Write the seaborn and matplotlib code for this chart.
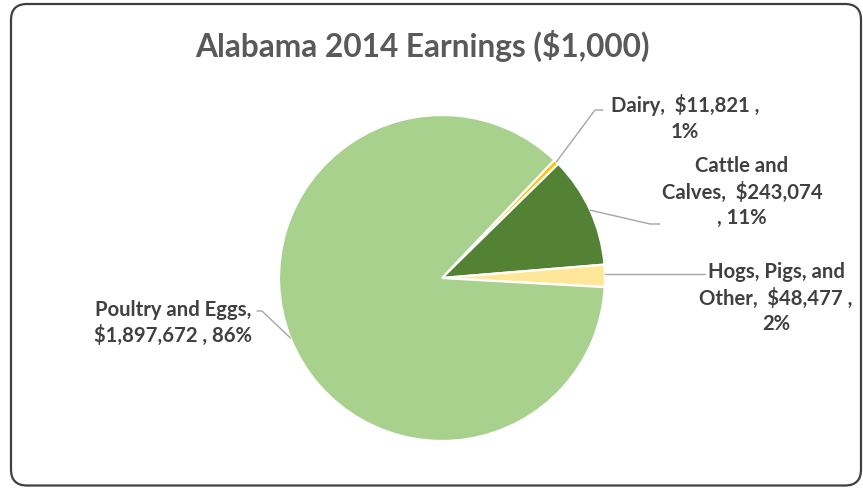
import numpy as np
import matplotlib
matplotlib.use("Agg")
import matplotlib.pyplot as plt
from matplotlib.patches import FancyBboxPatch
import seaborn as sns

# Alabama farm earnings, 2014, in thousands of dollars
categories = ["Dairy", "Cattle and Calves", "Hogs, Pigs, and Other", "Poultry and Eggs"]
earnings = [11821, 243074, 48477, 1897672]
colors = ["#FFC000", "#548235", "#FFE699", "#A9D18E"]

# how each data label wraps onto lines
label_formats = [
    "{name},  ${val} ,\n{pct}%",
    "Cattle and\nCalves,  ${val}\n, {pct}%",
    "Hogs, Pigs, and\nOther,  ${val} ,\n{pct}%",
    "{name},\n${val} , {pct}%",
]

sns.set_theme(style="white")
plt.rcParams["font.family"] = ["Lato", "DejaVu Sans"]

W, H = 863, 489
fig = plt.figure(figsize=(W / 100, H / 100), dpi=100)
ax = fig.add_axes([0, 0, 1, 1])

# rounded chart frame
frame = FancyBboxPatch((11, 2.5), 850, 481.5, boxstyle="round,pad=0,rounding_size=16",
                       facecolor="white", edgecolor="#3f3f3f", linewidth=1.6, zorder=0)
ax.add_patch(frame)

cx, cy, r = 442, H - 279, 163
start = 90 - 43.6
wedges, _ = ax.pie(earnings, colors=colors, startangle=start, counterclock=False,
                   center=(cx, cy), radius=r, frame=True,
                   wedgeprops=dict(edgecolor="white", linewidth=1.6))
ax.set_xlim(0, W)
ax.set_ylim(0, H)
ax.set_aspect("equal")
ax.axis("off")

ax.text(422, H - 46, "Alabama 2014 Earnings ($1,000)", ha="center", va="center",
        fontsize=22.8, fontweight="bold", color="#595959")

total = sum(earnings)
# label block centres and leader-line elbows (x, y from top)
label_pos = [(685, 118), (742, 192), (776, 298), (173, 323)]
elbows = [[(595, 111), (603, 111)],
          [(650, 225), (660, 225)],
          [(705, 275)],
          [(262, 312), (257, 312)]]

for w, name, val, fmt, (tx, ty), elb in zip(wedges, categories, earnings,
                                            label_formats, label_pos, elbows):
    pct = round(val / total * 100)
    text = fmt.format(name=name, val=f"{val:,}", pct=pct)
    ax.text(tx, H - ty, text, ha="center", va="center", fontsize=14.6,
            fontweight="bold", color="#404040", linespacing=1.34)
    mid = np.deg2rad((w.theta1 + w.theta2) / 2)
    ax_pt = (cx + r * np.cos(mid), cy + r * np.sin(mid))
    xs = [ax_pt[0]] + [p[0] for p in elb]
    ys = [ax_pt[1]] + [H - p[1] for p in elb]
    if len(elb) == 1:
        ys[0] = ys[1]
    ax.plot(xs, ys, color="#A6A6A6", linewidth=1.0, zorder=1)

fig.savefig("out.png", dpi=100, facecolor="white")
